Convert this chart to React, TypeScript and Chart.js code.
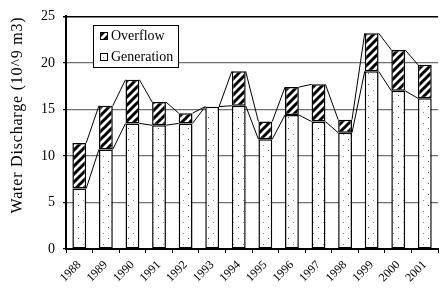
import React, { useEffect, useRef } from 'react';
import { Chart, registerables } from 'chart.js';

Chart.register(...registerables);

const years = ['1988', '1989', '1990', '1991', '1992', '1993', '1994', '1995', '1996', '1997', '1998', '1999', '2000', '2001'];
const generation = [6.5, 10.7, 13.5, 13.3, 13.5, 15.3, 15.4, 11.8, 14.4, 13.7, 12.5, 19.1, 17.0, 16.2];
const overflow = [4.9, 4.7, 4.7, 2.5, 1.1, 0, 3.7, 1.9, 3.0, 4.0, 1.4, 4.1, 4.4, 3.6];
const yTicks = [0, 5, 10, 15, 20, 25];
const seriesNames = ['Generation', 'Overflow'];
const yTitle = 'Water Discharge (10^9 m3)';

const FONT = "'Liberation Serif', 'Times New Roman', serif";

function makeHatch(): CanvasPattern | string {
  const c = document.createElement('canvas');
  const s = 8;
  c.width = s;
  c.height = s;
  const g = c.getContext('2d');
  if (!g) return '#888';
  g.fillStyle = '#fff';
  g.fillRect(0, 0, s, s);
  g.strokeStyle = '#000';
  g.lineWidth = 3;
  g.beginPath();
  g.moveTo(0, s);
  g.lineTo(s, 0);
  g.moveTo(-2, 2);
  g.lineTo(2, -2);
  g.moveTo(s - 2, s + 2);
  g.lineTo(s + 2, s - 2);
  g.stroke();
  return g.createPattern(c, 'repeat') || '#888';
}

function makeDots(): CanvasPattern | string {
  const c = document.createElement('canvas');
  c.width = 10;
  c.height = 11;
  const g = c.getContext('2d');
  if (!g) return '#fff';
  g.fillStyle = '#fff';
  g.fillRect(0, 0, 10, 11);
  g.fillStyle = '#888';
  g.fillRect(3, 2, 1, 1);
  g.fillStyle = '#555';
  g.fillRect(8, 7, 1, 1);
  return g.createPattern(c, 'repeat') || '#fff';
}

export default function App() {
  const ref = useRef<HTMLCanvasElement | null>(null);

  useEffect(() => {
    if (!ref.current) return;
    const hatch = makeHatch();
    const dots = makeDots();

    const seriesLines = {
      id: 'seriesLines',
      afterDatasetsDraw(chart: any) {
        const ctx = chart.ctx;
        ctx.save();
        ctx.strokeStyle = '#000';
        ctx.lineWidth = 1;
        chart.data.datasets.forEach((_: any, d: number) => {
          const meta = chart.getDatasetMeta(d);
          for (let i = 0; i < meta.data.length - 1; i++) {
            const a = meta.data[i];
            const b = meta.data[i + 1];
            ctx.beginPath();
            ctx.moveTo(a.x + a.width / 2, a.y);
            ctx.lineTo(b.x - b.width / 2, b.y);
            ctx.stroke();
          }
        });
        ctx.restore();
      },
    };

    const legendBox = {
      id: 'legendBox',
      afterDraw(chart: any) {
        const ctx = chart.ctx;
        ctx.save();
        ctx.fillStyle = '#fff';
        ctx.fillRect(93, 25, 86, 43);
        ctx.strokeStyle = '#000';
        ctx.lineWidth = 1;
        ctx.strokeRect(93.5, 25.5, 85, 42);
        const items = [
          { label: seriesNames[1], fill: hatch, y: 36 },
          { label: seriesNames[0], fill: dots, y: 57 },
        ];
        ctx.font = `14px ${FONT}`;
        ctx.textBaseline = 'middle';
        ctx.textAlign = 'left';
        items.forEach((it) => {
          ctx.fillStyle = it.fill as any;
          ctx.fillRect(100, it.y - 3.5, 7, 7);
          ctx.strokeStyle = '#000';
          ctx.lineWidth = 1;
          ctx.strokeRect(100.5, it.y - 3.5, 7, 7);
          ctx.fillStyle = '#000';
          ctx.fillText(it.label, 111, it.y + 0.5);
        });
        // y-axis title
        ctx.translate(18, 115);
        ctx.rotate(-Math.PI / 2);
        ctx.font = `16px ${FONT}`;
        try {
          (ctx as any).letterSpacing = '0.8px';
        } catch (e) {
          /* ignore */
        }
        ctx.textAlign = 'center';
        ctx.textBaseline = 'middle';
        ctx.fillStyle = '#000';
        ctx.fillText(yTitle, 0, 0);
        ctx.restore();
      },
    };

    const chart = new Chart(ref.current, {
      type: 'bar',
      data: {
        labels: years,
        datasets: [
          {
            label: seriesNames[0],
            data: generation,
            backgroundColor: dots as any,
            borderColor: '#000',
            borderWidth: 1.5,
            borderSkipped: false,
            categoryPercentage: 1,
            barPercentage: 0.52,
          },
          {
            label: seriesNames[1],
            data: overflow,
            backgroundColor: hatch as any,
            borderColor: '#000',
            borderWidth: 1.5,
            borderSkipped: false,
            categoryPercentage: 1,
            barPercentage: 0.52,
          },
        ],
      },
      options: {
        animation: false,
        responsive: false,
        maintainAspectRatio: false,
        layout: { padding: { top: 11, right: 0, left: 0, bottom: 0 } },
        plugins: {
          legend: { display: false },
          tooltip: { enabled: false },
          title: { display: false },
        },
        scales: {
          x: {
            stacked: true,
            afterFit(scale: any) {
              scale.height = 39;
            },
            grid: {
              display: true,
              offset: true,
              drawOnChartArea: false,
              drawTicks: true,
              tickLength: 4,
              color: '#000',
              tickColor: '#000',
            },
            border: { display: true, color: '#000', width: 2 },
            ticks: {
              autoSkip: false,
              maxRotation: 45,
              minRotation: 45,
              padding: 5,
              color: '#000',
              font: { family: FONT, size: 12 },
            },
          },
          y: {
            stacked: true,
            min: 0,
            max: 25,
            afterFit(scale: any) {
              scale.width = 66;
            },
            afterBuildTicks(scale: any) {
              scale.ticks = yTicks.map((v) => ({ value: v }));
            },
            grid: {
              color: (c: any) => (c.tick && c.tick.value === 25 ? '#000' : '#707070'),
              lineWidth: (c: any) => (c.tick && c.tick.value === 25 ? 1.5 : 1.2),
              tickLength: 3,
              tickColor: '#000',
            },
            border: { display: true, color: '#000', width: 2 },
            ticks: {
              padding: 8,
              color: '#000',
              font: { family: FONT, size: 14 },
            },
          },
        },
      },
      plugins: [seriesLines, legendBox],
    });
    return () => chart.destroy();
  }, []);

  return (
    <div style={{ position: 'absolute', left: 0, top: 0, width: 440, height: 288, background: '#fff' }}>
      <canvas ref={ref} width={440} height={288} style={{ display: 'block', width: 440, height: 288 }} />
    </div>
  );
}
